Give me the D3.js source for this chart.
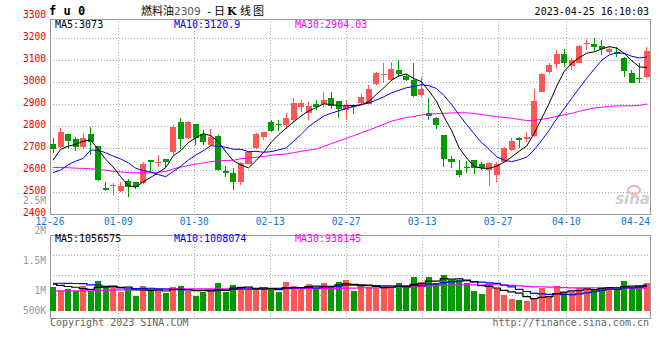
<!DOCTYPE html>
<html>
<head>
<meta charset="utf-8">
<script src="https://cdn.jsdelivr.net/npm/d3@7/dist/d3.min.js"></script>
<style>
  body { margin: 0; background: #fff; }
  text { font-family: "DejaVu Sans Mono", monospace; }
</style>
</head>
<body>
<svg id="chart" width="660" height="360"></svg>
<script>
// trading days shown (12-26 .. 04-25)
const dates = ["12-26","12-27","12-28","12-29","12-30","01-03","01-04","01-05","01-06",
  "01-09","01-10","01-11","01-12","01-13","01-16","01-17","01-18","01-19","01-20",
  "01-30","01-31","02-01","02-02","02-03","02-06","02-07","02-08","02-09","02-10",
  "02-13","02-14","02-15","02-16","02-17","02-20","02-21","02-22","02-23","02-24",
  "02-27","02-28","03-01","03-02","03-03","03-06","03-07","03-08","03-09","03-10",
  "03-13","03-14","03-15","03-16","03-17","03-20","03-21","03-22","03-23","03-24",
  "03-27","03-28","03-29","03-30","03-31","04-03","04-04","04-06","04-07",
  "04-10","04-11","04-12","04-13","04-14","04-17","04-18","04-19","04-20","04-21",
  "04-24","04-25"];

const open = [2718,2703,2761,2738,2703,2761,2706,2515,2524,2502,
  2547,2542,2539,2642,2630,2647,2680,2815,2745,2806,
  2761,2711,2752,2591,2586,2544,2627,2696,2748,2817,
  2809,2802,2827,2882,2858,2897,2897,2924,2911,2870,
  2892,2903,2900,2988,3032,3009,3052,3024,3009,2938,
  2855,2836,2756,2647,2597,2612,2642,2624,2597,2574,
  2635,2688,2741,2738,2752,2953,3044,3079,3124,3070,
  3085,3170,3170,3162,3135,3135,3105,3039,3018,3021];
const high = [2741,2788,2763,2748,2764,2792,2708,2542,2539,2544,
  2559,2544,2632,2645,2668,2650,2802,2836,2820,2808,
  2779,2783,2755,2617,2605,2635,2685,2768,2772,2824,
  2824,2858,2923,2915,2908,2918,2953,2953,2913,2915,
  2897,2942,2983,3044,3085,3089,3097,3036,3082,3021,
  2923,2838,2758,2661,2642,2638,2644,2635,2635,2635,
  2703,2745,2748,2771,2968,3039,3086,3142,3150,3105,
  3165,3191,3200,3188,3161,3158,3112,3052,3082,3158];
const low = [2673,2700,2694,2685,2691,2665,2547,2502,2485,2500,
  2476,2512,2536,2586,2612,2612,2668,2691,2739,2711,
  2711,2709,2594,2567,2506,2529,2624,2692,2733,2771,
  2774,2782,2817,2862,2824,2870,2885,2873,2836,2824,
  2852,2900,2897,2983,2991,3003,3021,3004,2930,2930,
  2827,2782,2612,2609,2567,2582,2579,2597,2524,2544,
  2633,2685,2700,2726,2748,2951,3036,3059,3067,3052,
  3082,3145,3139,3120,3127,3112,3021,2991,2991,3014];
const close = [2692,2770,2730,2703,2745,2726,2552,2506,2529,2524,
  2521,2521,2624,2632,2633,2632,2792,2739,2815,2745,
  2723,2748,2597,2585,2544,2630,2680,2761,2770,2774,
  2803,2832,2903,2903,2888,2882,2915,2888,2877,2888,
  2885,2930,2965,3039,3036,3056,3033,3006,2935,2968,
  2842,2802,2647,2632,2574,2609,2609,2605,2630,2624,
  2696,2730,2736,2748,2912,3036,3074,3127,3085,3097,
  3162,3173,3158,3150,3150,3127,3048,2994,3011,3139];
const volume = [942000,787000,853000,787000,969000,787000,1174000,969000,919000,748000,
  841000,593000,969000,841000,787000,686000,919000,969000,787000,593000,
  748000,814000,1097000,748000,1008000,919000,841000,880000,841000,841000,
  748000,1136000,969000,841000,1047000,841000,1097000,969000,1136000,1202000,
  775000,969000,919000,880000,969000,880000,1097000,880000,1329000,1136000,
  1329000,1097000,1395000,1202000,1202000,1074000,775000,659000,1074000,880000,
  620000,465000,426000,388000,492000,880000,593000,969000,709000,775000,
  903000,903000,841000,942000,942000,841000,1163000,942000,969000,1097000];

// moving-average values of the first days (their windows start before 12-26)
const ma5Head = [2642,2691,2706,2714];
const ma10Head = [2586,2597,2621,2638,2650,2688,2688,2676,2661];
const ma30Head = [2609,2609,2608,2606,2605,2603,2600,2597,2591,2589,
  2586,2585,2585,2585,2588,2591,2603,2611,2618,2624,
  2630,2636,2639,2641,2642,2649,2652,2656,2659];
const vma5Head = [1040000,990000,950000,920000];
const vma10Head = [1075000,1075000,1070000,1065000,1060000,1010000,1000000,960000,940000];
const vma30Head = [780000,780000,780000,780000,780000,785000,790000,800000,810000,820000,
  830000,835000,840000,845000,850000,850000,850000,855000,855000,860000,
  860000,860000,860000,860000,860000,860000,855000,855000,855000];

const dateTicks = ["12-26","01-09","01-30","02-13","02-27","03-13","03-27","04-10","04-24"];
const priceTicks = [2400,2500,2600,2700,2800,2900,3000,3100,3200,3300];
const volTicks = [500000,1000000,1500000,2000000,2500000];
const volTickLabels = ["500K","1M","1.5M","2M","2.5M"];

const priceLegend = [["MA5:3073", "#000"], ["MA10:3120.9", "#00f"], ["MA30:2904.03", "#f0f"]];
const volLegend = [["MA5:1056575", "#000"], ["MA10:1008074", "#00f"], ["MA30:938145", "#f0f"]];

const upColor = "#ff5656", downColor = "#009a00";
const gridColor = "#aaa", frameColor = "#999";

function movingAvg(vals, n, head) {
  return vals.map((v, i) => i < n - 1 ? head[i] : d3.mean(vals.slice(i - n + 1, i + 1)));
}

const svg = d3.select("#chart");
const left = 50, right = 650;
const priceTop = 19, priceBottom = 213.5;
const volTop = 235, volBottom = 318;

// scales
const xBand = d3.scaleBand()
  .domain(d3.range(dates.length))
  .range([left, right])
  .paddingInner(0.2)
  .paddingOuter(0);
const bw = xBand.bandwidth();
const xGrid = d3.scalePoint().domain(dates).range([left, right]);
const yPrice = d3.scaleLinear().domain([2400, 3300]).range([priceBottom, 15.5]);
const yVol = d3.scaleLinear().domain([0, 1000000]).range([311, 285.2]);
const yVolLabel = d3.scaleLinear().domain([1000000, 2500000]).range([291, 200.5]);

// grid lines
const grid = svg.append("g")
  .attr("stroke", gridColor)
  .attr("stroke-dasharray", "1,2")
  .attr("shape-rendering", "crispEdges");

grid.selectAll(".hp")
  .data(priceTicks.filter(v => v > 2400 && v < 3300))
  .join("line")
  .attr("x1", left).attr("x2", right)
  .attr("y1", d => Math.round(yPrice(d)) + 0.5)
  .attr("y2", d => Math.round(yPrice(d)) + 0.5);

grid.selectAll(".hv")
  .data([255.5, 275.5, 295.5])
  .join("line")
  .attr("x1", left).attr("x2", right)
  .attr("y1", d => d).attr("y2", d => d);

dateTicks.slice(1, -1).forEach(d => {
  const x = Math.round(xGrid(d)) + 0.5;
  grid.append("line").attr("x1", x).attr("x2", x).attr("y1", priceTop).attr("y2", priceBottom);
  grid.append("line").attr("x1", x).attr("x2", x).attr("y1", volTop).attr("y2", volBottom);
});

// sina watermark
const wm = svg.append("g");
wm.append("ellipse").attr("cx", 634).attr("cy", 190).attr("rx", 6).attr("ry", 4)
  .attr("fill", "none").attr("stroke", "#f4b0b0").attr("stroke-width", 2);
wm.append("text").attr("x", 650).attr("y", 204).attr("text-anchor", "end")
  .style("font-family", "DejaVu Sans").style("font-style", "italic").style("font-weight", "bold")
  .style("font-size", "15px").attr("fill", "#cfcfcf").text("sina");

// frames
svg.append("rect").attr("x", left + 0.5).attr("y", priceTop + 0.5)
  .attr("width", right - left).attr("height", priceBottom - priceTop)
  .attr("fill", "none").attr("stroke", frameColor).attr("shape-rendering", "crispEdges");
svg.append("rect").attr("x", left + 0.5).attr("y", volTop + 0.5)
  .attr("width", right - left).attr("height", volBottom - volTop)
  .attr("fill", "none").attr("stroke", frameColor).attr("shape-rendering", "crispEdges");

// candles
const candles = svg.append("g").attr("shape-rendering", "crispEdges");
dates.forEach((d, i) => {
  const col = close[i] >= open[i] ? upColor : downColor;
  const cx = Math.floor(xBand(i) + bw / 2) + 0.5;
  candles.append("line")
    .attr("x1", cx).attr("x2", cx)
    .attr("y1", yPrice(high[i])).attr("y2", yPrice(low[i]))
    .attr("stroke", col);
  const top = yPrice(Math.max(open[i], close[i]));
  const bot = yPrice(Math.min(open[i], close[i]));
  candles.append("rect")
    .attr("x", xBand(i)).attr("width", bw)
    .attr("y", top).attr("height", Math.max(1, bot - top))
    .attr("fill", col);
});

// price moving averages
const ma5 = movingAvg(close, 5, ma5Head);
const ma10 = movingAvg(close, 10, ma10Head);
const ma30 = movingAvg(close, 30, ma30Head);
const priceLine = d3.line()
  .x((d, i) => xBand(i) + bw / 2)
  .y(d => yPrice(d));
[[ma30, "#f0f"], [ma10, "#00f"], [ma5, "#000"]].forEach(([s, c]) => {
  svg.append("path").datum(s)
    .attr("fill", "none").attr("stroke", c).attr("stroke-width", 1)
    .attr("d", priceLine);
});

// volume bars
svg.append("g").attr("shape-rendering", "crispEdges")
  .selectAll("rect")
  .data(volume)
  .join("rect")
  .attr("x", (d, i) => xBand(i))
  .attr("width", bw)
  .attr("y", d => yVol(d))
  .attr("height", d => yVol(0) - yVol(d))
  .attr("fill", (d, i) => close[i] >= open[i] ? upColor : downColor);

// volume moving averages
const vma5 = movingAvg(volume, 5, vma5Head);
const vma10 = movingAvg(volume, 10, vma10Head);
const vma30 = movingAvg(volume, 30, vma30Head);
const volLine = d3.line()
  .x((d, i) => xBand(i) + bw / 2)
  .y(d => yVol(d))
  .curve(d3.curveStep);
[[vma30, "#f0f"], [vma10, "#00f"], [vma5, "#000"]].forEach(([s, c]) => {
  svg.append("path").datum(s)
    .attr("fill", "none").attr("stroke", c).attr("stroke-width", 1.2)
    .attr("d", volLine);
});

// price axis labels
svg.append("g").selectAll("text")
  .data(priceTicks)
  .join("text")
  .attr("x", 46).attr("y", d => yPrice(d) - 0.8)
  .attr("dy", "0.35em")
  .attr("text-anchor", "end")
  .attr("fill", "#e80000")
  .style("font-size", "9.6px")
  .text(d => d);

// volume axis labels
svg.append("g").selectAll("text")
  .data(volTicks)
  .join("text")
  .attr("x", 46).attr("y", d => Math.min(yVolLabel(d), yVol(0)))
  .attr("dy", "0.35em")
  .attr("text-anchor", "end")
  .attr("fill", "#999")
  .style("font-size", "9.6px")
  .text((d, i) => volTickLabels[i]);

// date labels
svg.append("g").selectAll("text")
  .data(dateTicks)
  .join("text")
  .attr("x", (d, i) => i === dateTicks.length - 1 ? right : xGrid(d))
  .attr("y", 221.5)
  .attr("dy", "0.35em")
  .attr("text-anchor", (d, i) => i === dateTicks.length - 1 ? "end" : "middle")
  .attr("fill", "#0a78d8")
  .style("font-size", "9.6px")
  .text(d => d);

// legends
const legendX = [55, 174, 295];
priceLegend.forEach(([t, c], i) => {
  svg.append("text").attr("x", legendX[i]).attr("y", 24.5).attr("dy", "0.35em")
    .attr("fill", c).style("font-size", "10px").text(t);
});
volLegend.forEach(([t, c], i) => {
  svg.append("text").attr("x", legendX[i]).attr("y", 238.5).attr("dy", "0.35em")
    .attr("fill", c).style("font-size", "10px").text(t);
});

// header
svg.append("text").attr("x", 49).attr("y", 15)
  .style("font-size", "12px").style("font-weight", "bold").attr("fill", "#000")
  .text("f u 0");
const cjk = "'Noto Sans CJK SC', sans-serif";
svg.append("text").attr("x", 141).attr("y", 15)
  .style("font-family", cjk).style("font-size", "11px").attr("fill", "#000")
  .text("燃料油");
svg.append("text").attr("x", 174).attr("y", 15)
  .style("font-family", "'DejaVu Sans', sans-serif").style("font-size", "10.5px").attr("fill", "#555")
  .text("2309");
svg.append("text").attr("x", 206).attr("y", 15)
  .style("font-size", "11px").attr("fill", "#000").text("-");
svg.append("text").attr("x", 214).attr("y", 15)
  .style("font-family", cjk).style("font-size", "11px").attr("fill", "#000")
  .text("日");
svg.append("text").attr("x", 227).attr("y", 15)
  .style("font-family", "'DejaVu Serif', serif").style("font-weight", "bold")
  .style("font-size", "11px").attr("fill", "#000").text("K");
svg.append("text").attr("x", 240).attr("y", 15)
  .style("font-family", cjk).style("font-size", "11px").attr("fill", "#000")
  .attr("letter-spacing", "2px").text("线图");
svg.append("text").attr("x", right - 1).attr("y", 15)
  .attr("text-anchor", "end").style("font-size", "10px").attr("fill", "#000")
  .text("2023-04-25 16:10:03");

// footer
svg.append("text").attr("x", 50).attr("y", 326)
  .style("font-size", "10px").attr("fill", "#666").text("Copyright 2023 SINA.COM");
svg.append("text").attr("x", right - 1).attr("y", 326).attr("text-anchor", "end")
  .style("font-size", "10px").attr("fill", "#666").text("http://finance.sina.com.cn");
</script>
</body>
</html>
